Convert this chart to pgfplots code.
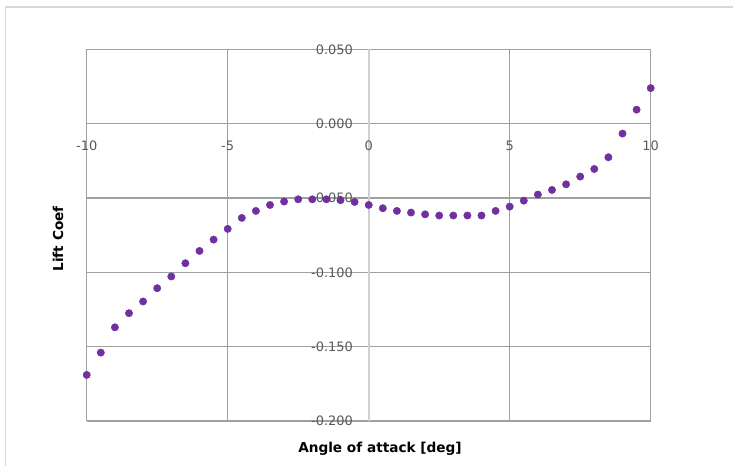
\documentclass[border=0pt]{standalone}
\usepackage{pgfplots}
\pgfplotsset{compat=1.18}
\usepackage{fontspec}
\setmainfont{DejaVu Sans}
\definecolor{gridgray}{HTML}{A0A0A0}
\definecolor{axisgray}{HTML}{D0D0D0}
\definecolor{framegray}{HTML}{D9D9D9}
\definecolor{labelgray}{HTML}{595959}
\definecolor{dotpurple}{HTML}{7030A0}

\begin{document}
\begin{tikzpicture}
\path[use as bounding box] (0,0) rectangle (733bp,466bp);
% outer chart frame (only left and top visible)
\draw[framegray, line width=1.2bp] (5.5bp,0) -- (5.5bp,459bp) -- (733bp,459bp);
\begin{axis}[
	at={(86.7bp,45bp)}, anchor=south west,
	scale only axis, width=564bp, height=371.7bp,
	xmin=-10, xmax=10, ymin=-0.2, ymax=0.05,
	clip=false,
	axis lines=center,
	axis line style={-},
	x axis line style={draw=gridgray, line width=1.5bp},
	y axis line style={draw=axisgray, line width=1.7bp},
	hide obscured x ticks=false, hide obscured y ticks=false,
	xtick={-10,-5,0,5,10},
	ytick={-0.2,-0.15,-0.1,-0.05,0,0.05},
	minor xtick={-10,-5,5,10},
	xmajorgrids=false, xminorgrids=true, ymajorgrids=true,
	major tick length=0, minor tick length=0,
	major grid style={draw=gridgray, line width=1.5bp},
	minor grid style={draw=gridgray, line width=1.5bp},
	ticklabel style={font=\fontsize{13}{13}\selectfont, text=labelgray},
	xticklabel style={anchor=north, yshift=-14bp},
	yticklabel style={anchor=east, xshift=-12.3bp},
	xticklabel style={/pgf/number format/assume math mode=true},
	yticklabel style={/pgf/number format/.cd, fixed, fixed zerofill, precision=3, assume math mode=true},
	xlabel={Angle of attack [deg]},
	ylabel={Lift Coef},
	xlabel style={at={(axis description cs:0.52,-0.0753)}, anchor=center, font=\bfseries\fontsize{13.7}{14}\selectfont},
	ylabel style={at={(axis description cs:-0.0509,0.49)}, anchor=center, rotate=90, font=\bfseries\fontsize{13.7}{14}\selectfont},
]
\addplot[only marks, mark=*, mark size=3.7bp, color=dotpurple] coordinates {
	(-10,-0.1690) (-9.5,-0.1540) (-9,-0.1370) (-8.5,-0.1275) (-8,-0.1196)
	(-7.5,-0.1107) (-7,-0.1028) (-6.5,-0.0939) (-6,-0.0856) (-5.5,-0.0780)
	(-5,-0.0708) (-4.5,-0.0634) (-4,-0.0587) (-3.5,-0.0547) (-3,-0.0524)
	(-2.5,-0.0509) (-2,-0.0509) (-1.5,-0.0509) (-1,-0.0515) (-0.5,-0.0527)
	(0,-0.0547) (0.5,-0.0569) (1,-0.0587) (1.5,-0.0598) (2,-0.0610)
	(2.5,-0.0618) (3,-0.0618) (3.5,-0.0618) (4,-0.0618) (4.5,-0.0587)
	(5,-0.0558) (5.5,-0.0518) (6,-0.0477) (6.5,-0.0446) (7,-0.0408)
	(7.5,-0.0356) (8,-0.0305) (8.5,-0.0226) (9,-0.0067) (9.5,0.0094)
	(10,0.0239)
};
\end{axis}
\end{tikzpicture}
\end{document}
